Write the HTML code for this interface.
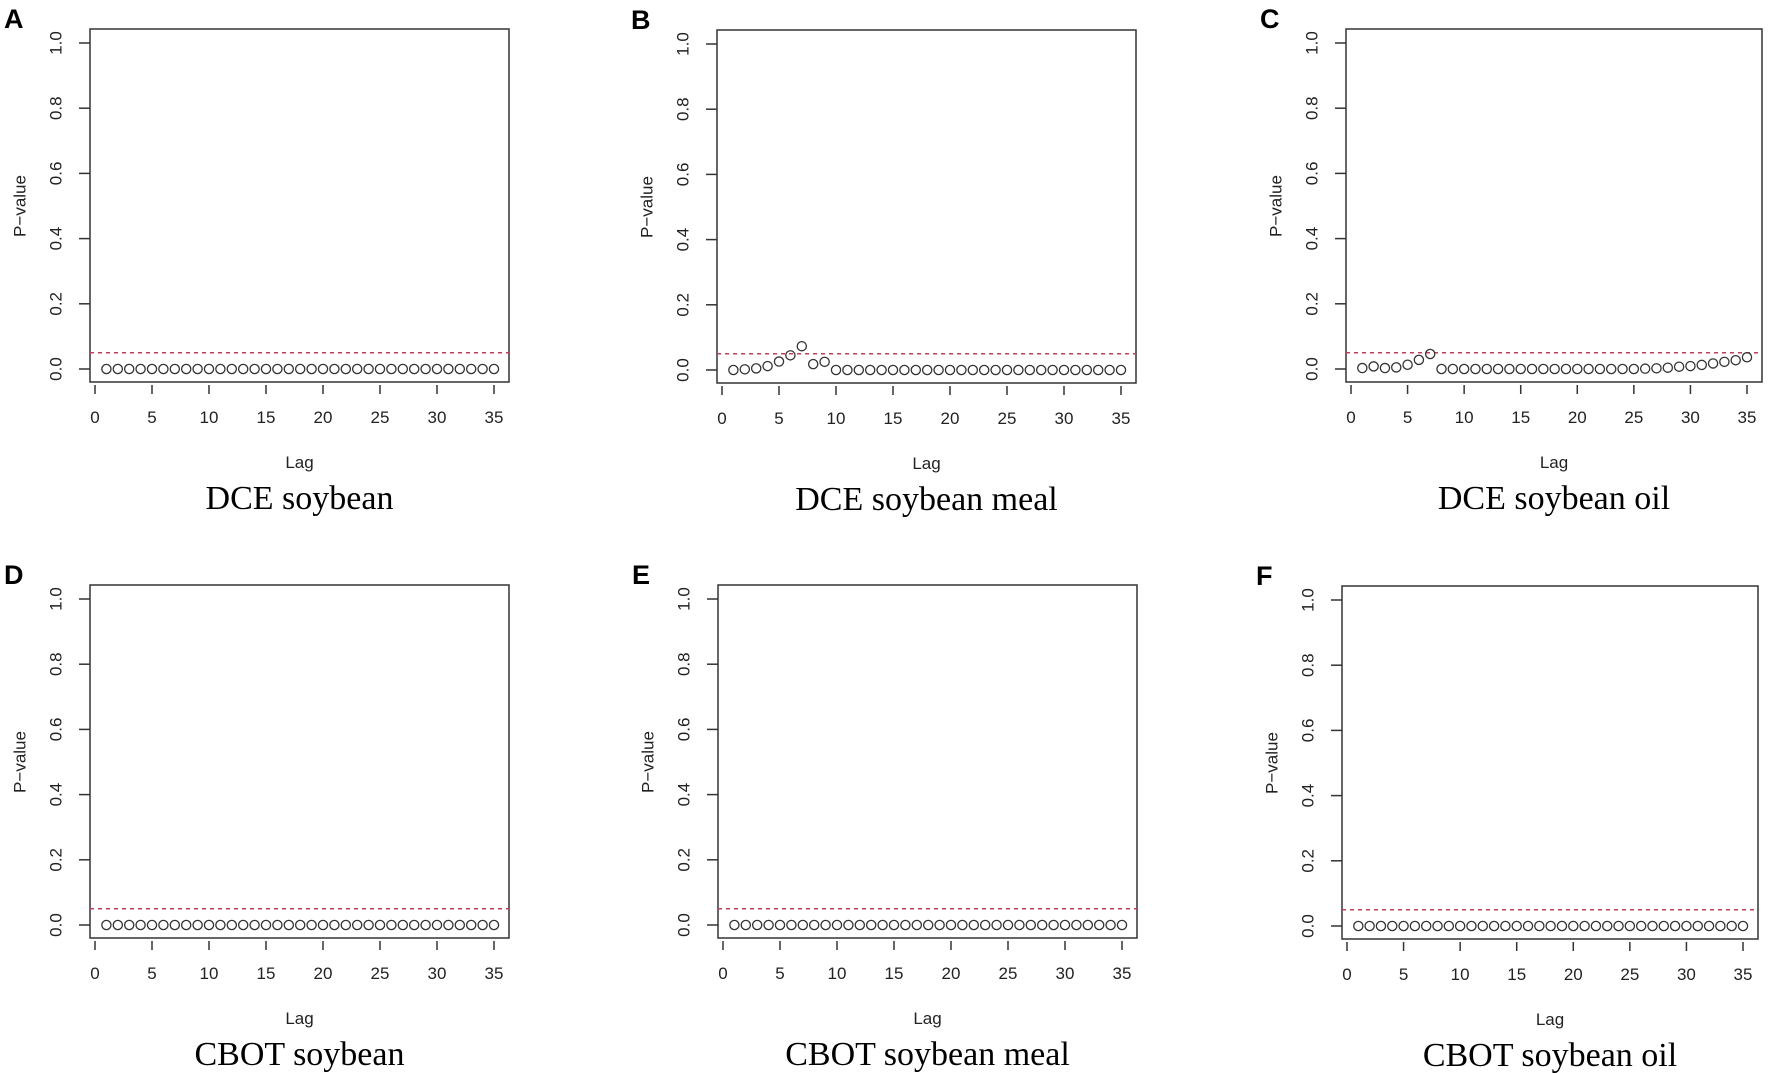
<!DOCTYPE html>
<html><head><meta charset="utf-8"><style>
html,body{margin:0;padding:0;background:#fff;}
svg{display:block;}
.tick{font-family:"Liberation Sans",sans-serif;font-size:17px;fill:#222;}
.title{font-family:"Liberation Serif",serif;font-size:34px;fill:#000;}
.letter{font-family:"Liberation Sans",sans-serif;font-size:27px;font-weight:bold;fill:#000;}
</style></head><body>
<svg id="fig" width="1772" height="1073" viewBox="0 0 1772 1073"></svg>
<script>
const lags = Array.from({length:35},(_,i)=>i+1);
const seriesA = new Array(35).fill(0);
const seriesB = [0,0.002,0.005,0.012,0.026,0.045,0.073,0.018,0.025,0,0,0,0,0,0,0,0,0,0,0,0,0,0,0,0,0,0,0,0,0,0,0,0,0,0];
const seriesC = [0.003,0.008,0.003,0.005,0.013,0.028,0.046,0,0,0,0,0,0,0,0,0,0,0,0,0,0,0,0,0,0,0.001,0.002,0.004,0.007,0.009,0.0125,0.017,0.022,0.027,0.036];
const seriesD = new Array(35).fill(0);
const seriesE = new Array(35).fill(0);
const seriesF = new Array(35).fill(0);
const yTicks = [0,0.2,0.4,0.6,0.8,1.0];
const xTicks = [0,5,10,15,20,25,30,35];
const threshold = 0.05;
const titles = ["DCE soybean","DCE soybean meal","DCE soybean oil","CBOT soybean","CBOT soybean meal","CBOT soybean oil"];
const letters = ["A","B","C","D","E","F"];
const allSeries = [seriesA,seriesB,seriesC,seriesD,seriesE,seriesF];
const layout = [
 {x0:95,x35:494,y0:369},{x0:722,x35:1121,y0:370},{x0:1351,x35:1747,y0:369},
 {x0:95,x35:494,y0:925},{x0:723,x35:1122,y0:925},{x0:1347,x35:1743,y0:926}];
const NS="http://www.w3.org/2000/svg";
const svg=document.getElementById('fig');
function mk(tag,attrs,parent){const e=document.createElementNS(NS,tag);for(const k in attrs)e.setAttribute(k,attrs[k]);(parent||svg).appendChild(e);return e;}
layout.forEach((L,p)=>{
  const g=mk('g',{});
  
  
  const sx=v=>L.x0+(v)*(L.x35-L.x0)/35;
  const sy=v=>L.y0-v*326;
  const left=L.x0-5,right=L.x35+15,top=sy(1)-14,bottom=L.y0+13;
  const box=mk('rect',{x:left,y:top,width:right-left,height:bottom-top,fill:'none',stroke:'#333','stroke-width':1.5},g);
  
  
  yTicks.forEach(t=>{
    const y=sy(t);
    mk('line',{x1:left-11,x2:left,y1:y,y2:y,stroke:'#333','stroke-width':1.5},g);
    const tx=mk('text',{class:'tick',x:left-34,y:y,'text-anchor':'middle','dominant-baseline':'central',transform:`rotate(-90 ${left-34} ${y})`},g);
    tx.textContent=t.toFixed(1);
    
    
  });
  xTicks.forEach(t=>{
    const x=sx(t);
    mk('line',{x1:x,x2:x,y1:bottom+3,y2:bottom+12,stroke:'#333','stroke-width':1.5},g);
    const tx=mk('text',{class:'tick',x:x,y:L.y0+54,'text-anchor':'middle'},g);
    tx.textContent=t;
    
    
  });
  const yl=mk('text',{class:'tick',x:left-70,y:(sy(0)+sy(1))/2,'text-anchor':'middle','dominant-baseline':'central',transform:`rotate(-90 ${left-70} ${(sy(0)+sy(1))/2})`},g);
  yl.textContent='P\u2212value';
  
  
  const xl=mk('text',{class:'tick',x:(left+right)/2,y:L.y0+99,'text-anchor':'middle'},g);
  xl.textContent='Lag';
  
  
  const ti=mk('text',{class:'title',x:(left+right)/2,y:L.y0+140,'text-anchor':'middle'},g);
  ti.textContent=titles[p];
  
  
  const le=mk('text',{class:'letter',x:left-86,y:top-1},g);
  le.textContent=letters[p];
  
  
  const th=mk('line',{x1:left,x2:right,y1:sy(threshold),y2:sy(threshold),stroke:'#c0405a','stroke-width':1.5,'stroke-dasharray':'4 4'},g);
  
  
  allSeries[p].forEach((v,i)=>{
    const c=mk('circle',{cx:sx(lags[i]),cy:sy(v),r:4.6,fill:'none',stroke:'#333','stroke-width':1.3},g);
    
    
  });
});
</script>
</body></html>
